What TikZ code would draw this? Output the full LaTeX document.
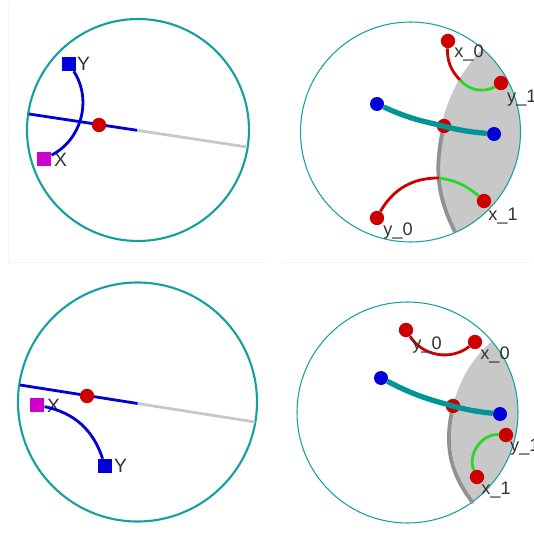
\documentclass[tikz,border=0pt]{standalone}
\usepackage{fontspec}
\setmainfont{Liberation Sans}
\definecolor{diskteal}{RGB}{20,160,160}
\definecolor{geoteal}{RGB}{0,150,150}
\definecolor{ptred}{RGB}{205,0,0}
\definecolor{ptblue}{RGB}{0,0,215}
\definecolor{ptmagenta}{RGB}{205,0,205}
\definecolor{geogreen}{RGB}{40,215,40}
\definecolor{shadegray}{RGB}{200,200,200}
\definecolor{edgegray}{RGB}{145,145,145}

\begin{document}
\begin{tikzpicture}[x=0.03cm, y=-0.03cm,
    disk/.style={draw=diskteal, line width=1.8pt},
    thindisk/.style={draw=diskteal, line width=0.9pt},
    frame/.style={draw=black!4, line width=0.6pt},
    reddot/.style={circle, fill=ptred, inner sep=0pt, minimum size=0.43cm},
    bluedot/.style={circle, fill=ptblue, inner sep=0pt, minimum size=0.42cm},
    ysq/.style={rectangle, fill=ptblue, inner sep=0pt, minimum size=0.42cm},
    xsq/.style={rectangle, fill=ptmagenta, inner sep=0pt, minimum size=0.44cm},
    blueline/.style={draw=ptblue, line width=2.4pt},
    grayline/.style={draw=shadegray, line width=2.4pt},
    geo/.style={draw=geoteal, line width=4.5pt},
    redgeo/.style={draw=ptred, line width=2.4pt},
    greengeo/.style={draw=geogreen, line width=2.4pt},
    edge/.style={draw=edgegray, line width=3.2pt},
    lab/.style={text=black!80, font=\fontsize{15.5}{18}\selectfont, inner sep=0pt},
    biglab/.style={text=black!80, font=\fontsize{16.5}{19}\selectfont, inner sep=0pt, anchor=west}]
  \useasboundingbox (0,0) rectangle (533,542);
  \draw[frame] (8,2) -- (8,262) -- (265,262);
  \draw[frame] (282,262) -- (533,262);

  \coordinate (c1) at (138,130);
  \draw[disk] (c1) circle (111);
  \coordinate (l1a) at (29,114);
  \coordinate (l1m) at (137,130.3);
  \coordinate (l1b) at (247,147);
  \draw[grayline] (l1m) -- (l1b);
  \draw[blueline] (l1a) -- (l1m);
  \node[reddot] (m1) at (99,125) {};
  \node[ysq] (y1) at (69,64) {};
  \node[xsq] (x1) at (44,159) {};
  \node[biglab] (ylab1) at (77,64) {Y};
  \node[biglab] (xlab1) at (54,160) {X};
  \draw[blueline] (y1) to[bend left=48] (x1);

  \coordinate (c2) at (410.5,132);
  \begin{scope}
    \clip (c2) circle (110);
    \fill[shadegray] (598.3,159.7) circle (160.5);
  \end{scope}
  \draw[thindisk] (c2) circle (110);
  \node[bluedot] (a2) at (377,104) {};
  \node[reddot] (m2) at (444,126) {};
  \node[bluedot] (b2) at (494,134) {};
  \node[reddot] (p2) at (448,41) {};
  \node[reddot] (q2) at (501,83) {};
  \node[reddot] (r2) at (377,218) {};
  \node[reddot] (s2) at (484,201) {};
  \coordinate (e2) at (455,232);
  \coordinate (k2) at (460,80);
  \coordinate (h2) at (439,178);
  \draw[edge] (m2) to[bend right=19] (e2);
  \draw[geo] (a2) to[bend right=6] (m2) to[bend right=5] (b2);
  \draw[redgeo] (p2) to[bend right=22] (k2);
  \draw[greengeo] (k2) to[bend right=37] (q2);
  \draw[redgeo] (r2) to[bend left=30] (h2);
  \draw[greengeo] (h2) to[bend left=16] (s2);
  \node[lab] (x0l2) at (469,53) {x\_0};
  \node[lab, anchor=west] (y1l2) at (507,98) {y\_1};
  \node[lab] (y0l2) at (398,231) {y\_0};
  \node[lab] (x1l2) at (503,216) {x\_1};

  \coordinate (c3) at (137.5,402);
  \draw[disk] (c3) circle (119.5);
  \coordinate (l3a) at (20,385);
  \coordinate (l3m) at (137.5,403.5);
  \coordinate (l3b) at (255,422);
  \draw[grayline] (l3m) -- (l3b);
  \draw[blueline] (l3a) -- (l3m);
  \node[reddot] (m3) at (87,396) {};
  \node[xsq] (x3) at (37,405) {};
  \node[ysq] (y3) at (105,466) {};
  \node[biglab] (xlab3) at (47,406) {X};
  \node[biglab] (ylab3) at (114,466) {Y};
  \draw[blueline] (x3) to[bend left=30] (y3);

  \coordinate (c4) at (407.5,412.5);
  \begin{scope}
    \clip (c4) circle (110.5);
    \fill[shadegray] (571.5,432.4) circle (121.2);
  \end{scope}
  \draw[thindisk] (c4) circle (110.5);
  \node[bluedot] (a4) at (381,378) {};
  \node[reddot] (m4) at (453,406) {};
  \node[bluedot] (b4) at (500,414) {};
  \node[reddot] (p4) at (406,330) {};
  \node[reddot] (q4) at (475,342) {};
  \node[reddot] (s4) at (506,435) {};
  \node[reddot] (t4) at (477,477) {};
  \coordinate (e4) at (473,503);
  \draw[edge] (m4) to[bend right=24] (e4);
  \draw[geo] (a4) to[bend right=6] (m4) to[bend right=5] (b4);
  \draw[redgeo] (p4) to[bend right=48] (q4);
  \draw[greengeo] (s4) to[bend right=59] (t4);
  \node[lab] (y0l4) at (427,345) {y\_0};
  \node[lab] (x0l4) at (495,355) {x\_0};
  \node[lab, anchor=west] (y1l4) at (510,447) {y\_1};
  \node[lab] (x1l4) at (496,490) {x\_1};
\end{tikzpicture}
\end{document}
